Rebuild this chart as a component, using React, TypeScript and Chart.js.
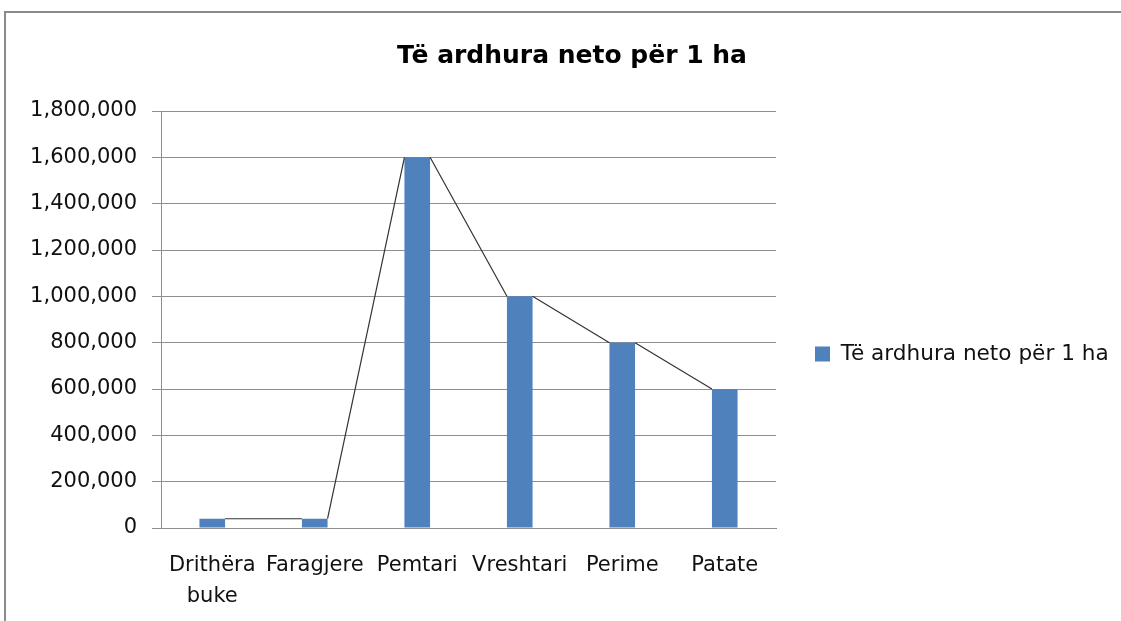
import React, { useEffect, useRef } from "react";
import { Chart, registerables } from "chart.js";

Chart.register(...registerables);

const categories: (string | string[])[] = [
  ["Drithëra", "buke"],
  "Faragjere",
  "Pemtari",
  "Vreshtari",
  "Perime",
  "Patate",
];
const seriesLabel = "Të ardhura neto për 1 ha";
const seriesValues: number[] = [40000, 40000, 1600000, 1000000, 800000, 600000];
const chartTitle = "Të ardhura neto për 1 ha";
const yMin = 0;
const yMax = 1800000;
const yStep = 200000;

const FONT = "'DejaVu Sans', sans-serif";
const BAR_COLOR = "#4f81bd";
const GRID_COLOR = "#8e8e8e";

const connectorPlugin = {
  id: "barConnectors",
  afterDatasetsDraw(chart: any) {
    const meta = chart.getDatasetMeta(0);
    const els = meta.data;
    const ctx = chart.ctx;
    ctx.save();
    ctx.strokeStyle = "#333333";
    ctx.lineWidth = 1.2;
    ctx.beginPath();
    for (let i = 0; i < els.length - 1; i++) {
      const a = els[i];
      const b = els[i + 1];
      ctx.moveTo(a.x + a.width / 2, a.y);
      ctx.lineTo(b.x - b.width / 2, b.y);
    }
    ctx.stroke();
    ctx.restore();
  },
};

export default function App() {
  const ref = useRef<HTMLCanvasElement | null>(null);

  useEffect(() => {
    if (!ref.current) return;
    const chart = new Chart(ref.current, {
      type: "bar",
      data: {
        labels: categories,
        datasets: [
          {
            label: seriesLabel,
            data: seriesValues,
            backgroundColor: BAR_COLOR,
            borderWidth: 0,
            categoryPercentage: 1,
            barPercentage: 0.25,
          },
        ],
      },
      options: {
        responsive: false,
        animation: false,
        events: [],
        layout: { padding: { left: 27, right: 4, top: 0, bottom: 0 } },
        plugins: {
          tooltip: { enabled: false },
          title: {
            display: true,
            text: chartTitle,
            color: "#000",
            font: { family: FONT, size: 25, weight: "bold", lineHeight: 1.2 },
            padding: { top: 41, bottom: 40 },
          },
          legend: {
            display: true,
            position: "right",
            align: "center",
            maxWidth: 341,
            title: {
              display: true,
              text: " ",
              font: { family: FONT, size: 10, lineHeight: 1.2 },
              padding: { top: 75, bottom: 0 },
            },
            labels: {
              boxWidth: 15,
              boxHeight: 15,
              padding: 39,
              color: "#111",
              font: { family: FONT, size: 21.6 },
            },
          },
        },
        scales: {
          x: {
            grid: { display: false },
            border: { display: true, color: GRID_COLOR, width: 1 },
            ticks: {
              color: "#111",
              font: { family: FONT, size: 21, lineHeight: 1.5 },
              padding: 13.5,
              maxRotation: 0,
              minRotation: 0,
              autoSkip: false,
            },
            afterFit: (scale: any) => {
              scale.height = 93;
            },
          },
          y: {
            min: yMin,
            max: yMax,
            grid: {
              display: true,
              color: GRID_COLOR,
              lineWidth: 1,
              drawTicks: true,
              tickLength: 9,
            },
            border: { display: true, color: GRID_COLOR, width: 1 },
            ticks: {
              stepSize: yStep,
              color: "#111",
              font: { family: FONT, size: 21 },
              padding: 15,
              callback: (v: any) => Number(v).toLocaleString("en-US"),
            },
            afterFit: (scale: any) => {
              scale.width = 134;
            },
          },
        },
      },
      plugins: [connectorPlugin],
    });
    return () => chart.destroy();
  }, []);

  return (
    <div
      style={{
        position: "fixed",
        left: 0,
        top: 0,
        width: 1121,
        height: 621,
        overflow: "hidden",
        background: "#fff",
      }}
    >
      <div
        style={{
          position: "absolute",
          left: 4,
          top: 11,
          width: 1300,
          height: 800,
          borderLeft: "2px solid #8a8a8a",
          borderTop: "2px solid #8a8a8a",
        }}
      />
      <canvas
        ref={ref}
        width={1121}
        height={621}
        style={{ position: "absolute", left: 0, top: 0 }}
      />
    </div>
  );
}
